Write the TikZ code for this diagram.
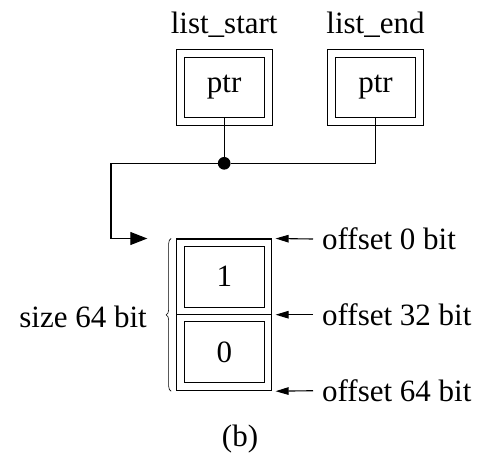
\documentclass[tikz,border=0pt]{standalone}
\usepackage{fontspec}
\setmainfont{Liberation Serif}
\usetikzlibrary{arrows.meta,fit,decorations.pathreplacing}
\tikzset{
  every node/.style={font=\fontsize{31}{36}\selectfont},
  cell/.style={draw, line width=1.1pt, inner sep=0pt, minimum width=80pt},
  frame/.style={draw, line width=1.1pt, inner sep=7.3pt},
  wire/.style={line width=1.1pt},
  bigarrow/.style={wire, -{Triangle[length=17pt,width=13pt]}},
  offarrow/.style={wire, -{Triangle[length=13pt,width=7.5pt]}, shorten >=3.3pt},
  offlabel/.style={anchor=west, inner xsep=9pt, inner ysep=0pt},
}
\begin{document}
\begin{tikzpicture}[x=1pt,y=-1pt]
  \useasboundingbox (0,0) rectangle (481,461);

  % pointer variables
  \node[cell, minimum height=60.4pt] (lsp) at (224.2,87.5) {ptr};
  \node[frame, fit=(lsp)] (ls) {};
  \node[cell, minimum height=60.4pt] (lep) at (375.5,87.5) {ptr};
  \node[frame, fit=(lep)] (le) {};
  \node[anchor=base] (lsl) at (224.2,33) {list\_start};
  \node[anchor=base] (lel) at (375.5,33) {list\_end};

  % junction and link to the list block
  \node[circle, fill, inner sep=0pt, minimum size=12.7pt] (j) at (lsp.south |- 0,163.3) {};
  \coordinate (corner) at (111,163.3);
  \coordinate (tip) at (147.3,238.5);
  \draw[wire] (lsp.south) -- (j);
  \draw[wire] (lep.south) |- (j);
  \draw[bigarrow] (j) -- (corner) |- (tip);

  % 64-bit block with two 32-bit fields
  \node[cell, minimum height=61.3pt] (one) at (224.3,276.7) {1};
  \node[cell, minimum height=61pt] (zero) at (224.3,352.2) {0};
  \node[draw, line width=1.1pt, inner sep=0pt, minimum width=95pt, minimum height=151.7pt] (mem) at (224.2,314.85) {};
  \coordinate (mid) at (mem.east |- 0,314.7);
  \draw[wire] (mem.west |- mid) -- (mid);

  % size brace
  \draw[line width=0.6pt, decorate, decoration={brace, amplitude=5pt}]
    ([xshift=-5pt]mem.south west) -- ([xshift=-5pt]mem.north west);
  \node[anchor=east, inner sep=0pt] (size) at (147,316.7) {size 64 bit};

  % offsets
  \node[offlabel] (o0) at (313,239) {offset 0 bit};
  \node[offlabel] (o32) at (313,314.7) {offset 32 bit};
  \node[offlabel] (o64) at (313,390.7) {offset 64 bit};
  \draw[offarrow] (o0.west) -- (mem.north east);
  \draw[offarrow] (o32.west) -- (mid);
  \draw[offarrow] (o64.west) -- (mem.south east);

  \node[anchor=base] (cap) at (240,446) {(b)};
\end{tikzpicture}
\end{document}
